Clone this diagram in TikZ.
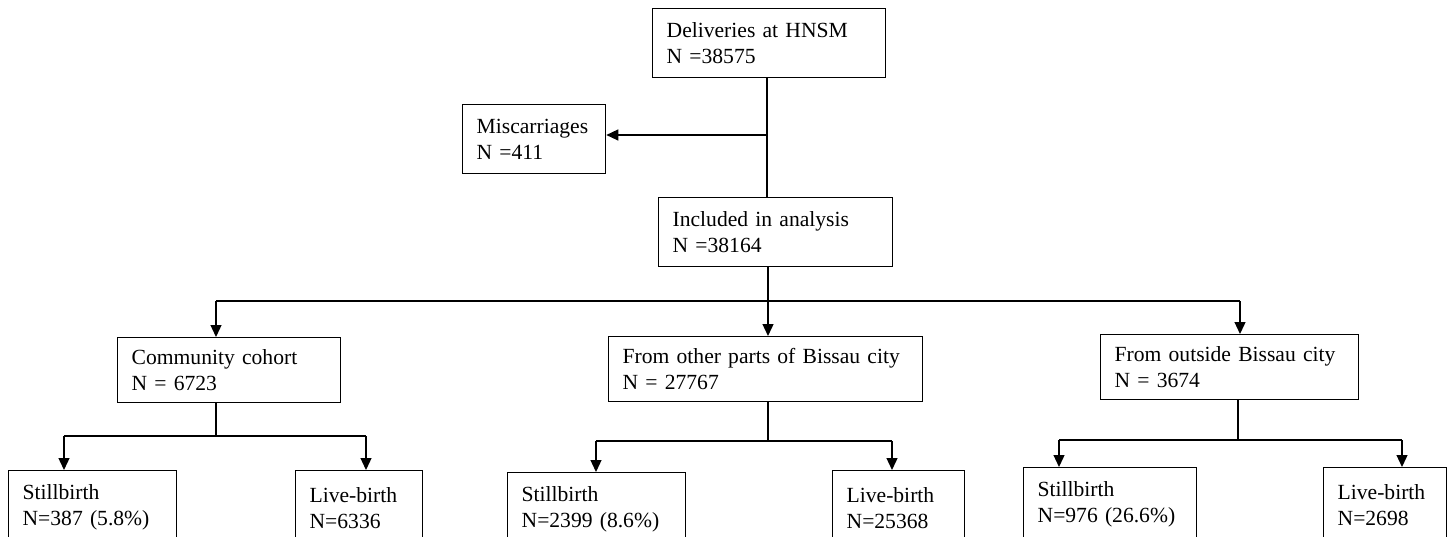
\documentclass[tikz,border=0pt]{standalone}
\usepackage{fontspec}
\setmainfont{Liberation Serif}
\usetikzlibrary{arrows.meta}
\tikzset{
  box/.style={draw, line width=1.3pt, anchor=north west, align=left,
    inner xsep=14pt, inner ysep=0pt,
    font=\fontsize{21.6}{26}\selectfont},
  arr/.style={line width=1.3pt, -{Triangle[length=12pt,width=11pt]}},
  ln/.style={line width=1.3pt}
}
\begin{document}
\begin{tikzpicture}[x=1pt,y=-1pt]
\useasboundingbox (0,0) rectangle (1450,537);
\clip (0,0) rectangle (1450,537);
\fill[white] (0,0) rectangle (1450,537);
% level 0
\node[box, text width=205pt, minimum height=69pt] (del) at (652,8) {Deliveries at HNSM\\N =38575};
\node[box, text width=115pt, minimum height=69pt] (misc) at (462,104) {Miscarriages\\N =411};
\node[box, text width=206pt, minimum height=69pt] (incl) at (658,197) {Included in analysis\\N =38164};
% level 1
\node[box, text width=195pt, minimum height=65pt] (comm) at (117,337) {Community cohort\\N = 6723};
\node[box, text width=286pt, minimum height=65pt] (mid) at (608,336) {From other parts of Bissau city\\N = 27767};
\node[box, text width=230pt, minimum height=65pt] (out) at (1100,334) {From outside Bissau city\\N = 3674};
% level 2
\node[box, text width=140pt, minimum height=74pt] (s1) at (8,470) {Stillbirth\\N=387 (5.8\%)};
\node[box, text width=99pt, minimum height=74pt] (l1) at (295,470) {Live-birth\\N=6336};
\node[box, text width=150pt, minimum height=74pt] (s2) at (507,472) {Stillbirth\\N=2399 (8.6\%)};
\node[box, text width=104pt, minimum height=74pt] (l2) at (832,470) {Live-birth\\N=25368};
\node[box, text width=145pt, minimum height=74pt] (s3) at (1023,467) {Stillbirth\\N=976 (26.6\%)};
\node[box, text width=95pt, minimum height=74pt] (l3) at (1323,467) {Live-birth\\N=2698};
% connectors top
\coordinate (j0) at (767,135);
\draw[ln] (del.south -| j0) -- (incl.north -| j0);
\draw[arr] (j0) -- (misc.east |- j0);
\coordinate (b1) at (768,301);
\coordinate (a1) at (216,301);
\coordinate (a3) at (1240,301);
\draw[ln] (incl.south -| b1) -- (b1);
\draw[ln] (a1) -- (a3);
\draw[arr] (a1) -- (a1 |- comm.north);
\draw[arr] (b1) -- (b1 |- mid.north);
\draw[arr] (a3) -- (a3 |- out.north);
% community branch
\coordinate (c0) at (216,436);
\coordinate (cl) at (64,436);
\coordinate (cr) at (366,436);
\draw[ln] (comm.south -| c0) -- (c0);
\draw[ln] (cl) -- (cr);
\draw[arr] (cl) -- (cl |- s1.north);
\draw[arr] (cr) -- (cr |- l1.north);
% middle branch
\coordinate (m0) at (768,441);
\coordinate (ml) at (596,441);
\coordinate (mr) at (892,441);
\draw[ln] (mid.south -| m0) -- (m0);
\draw[ln] (ml) -- (mr);
\draw[arr] (ml) -- (ml |- s2.north);
\draw[arr] (mr) -- (mr |- l2.north);
% right branch
\coordinate (r0) at (1238,440);
\coordinate (rl) at (1059,440);
\coordinate (rr) at (1402,440);
\draw[ln] (out.south -| r0) -- (r0);
\draw[ln] (rl) -- (rr);
\draw[arr] (rl) -- (rl |- s3.north);
\draw[arr] (rr) -- (rr |- l3.north);
\end{tikzpicture}
\end{document}
